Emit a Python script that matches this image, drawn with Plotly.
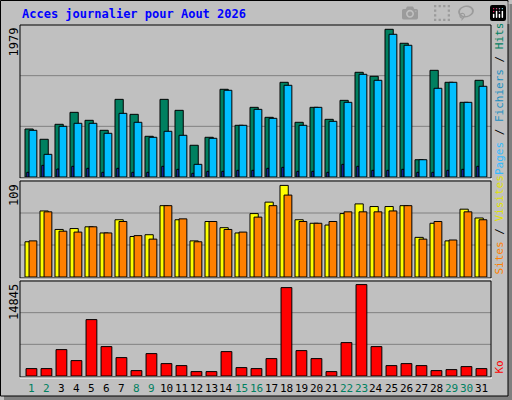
import plotly.graph_objects as go

days = list(range(1, 32))
day_labels = [str(d) for d in days]
weekend_days = [1, 2, 8, 9, 15, 16, 22, 23, 29, 30]
hits = [625, 491, 686, 842, 738, 608, 1011, 816, 530, 1011, 868, 413, 517, 1142, 673, 907,
        777, 1233, 712, 907, 751, 998, 1363, 1311, 1923, 1741, 225, 1389, 1233, 972, 1259]
files = [608, 295, 660, 699, 699, 569, 829, 712, 517, 595, 543, 165, 504, 1129, 673, 881,
         764, 1194, 673, 907, 725, 972, 1337, 1259, 1858, 1715, 225, 1155, 1233, 972, 1181]
pages = [61, 152, 104, 139, 113, 61, 113, 61, 61, 139, 100, 48, 74, 74, 87, 87,
         113, 126, 74, 74, 61, 165, 139, 87, 87, 100, 61, 61, 87, 100, 139]
visits = [40, 75, 54, 55, 57, 50, 65, 46, 48, 81, 65, 41, 63, 56, 50, 72,
          85, 104, 65, 61, 59, 72, 83, 80, 80, 81, 45, 61, 41, 77, 67]
sites = [41, 74, 52, 51, 57, 50, 63, 47, 43, 81, 66, 40, 63, 54, 51, 68,
         81, 93, 63, 61, 63, 74, 74, 74, 75, 81, 43, 63, 42, 74, 65]
ko = [1156, 1156, 4125, 2406, 8813, 4594, 2875, 844, 3500, 1938, 1625, 688, 688, 3813, 1313, 1156,
      2719, 13813, 3969, 2719, 688, 5219, 14282, 4594, 1625, 1938, 1625, 844, 1000, 1469, 1156]
max_hits, max_visits, max_ko = 1979, 109, 14845

W, H = 512, 400
def py(p):  # pixel y -> paper
    return 1 - p / H
def px(p):
    return p / W

line = dict(color="black", width=1)
fig = go.Figure()
def bar(y, color, off, w, axis, xa):
    fig.add_trace(go.Bar(x=days, y=y, marker=dict(color=color, line=line), width=w, offset=off,
                         xaxis=xa, yaxis=axis, showlegend=False, hoverinfo="skip"))

bar(hits, "#008060", -0.35, 0.55, "y", "x")
bar(pages, "#2030D0", -0.23, 0.15, "y", "x")
bar(files, "#00BFFF", -0.08, 0.52, "y", "x")
bar(visits, "#FFFF00", -0.35, 0.55, "y2", "x2")
bar(sites, "#FF8000", -0.08, 0.52, "y2", "x2")
bar(ko, "#FF0000", -0.28, 0.72, "y3", "x3")

xr = [0.317, 31.717]
xd = [px(20), px(491)]
common_x = dict(range=xr, domain=xd, showticklabels=False, showgrid=False, zeroline=False, fixedrange=True)
def yax(rng, top, bot):
    return dict(range=[0, rng], domain=[py(bot), py(top)], showticklabels=False, zeroline=False,
                showgrid=False, tickvals=[rng / 3, 2 * rng / 3], fixedrange=True)

fig.update_layout(
    width=W, height=H, margin=dict(l=0, r=0, t=0, b=0),
    paper_bgcolor="#C0C0C0", plot_bgcolor="#C0C0C0", barmode="overlay",
    xaxis=dict(common_x, anchor="y"), xaxis2=dict(common_x, anchor="y2"), xaxis3=dict(common_x, anchor="y3"),
    yaxis=dict(yax(max_hits, 25, 177), anchor="x"),
    yaxis2=dict(yax(max_visits, 181, 277), anchor="x2"),
    yaxis3=dict(yax(max_ko, 281, 376), anchor="x3"),
    font=dict(family="DejaVu Sans Mono", size=11, color="black"),
)

shapes = []
shapes.append(dict(type="rect", xref="paper", yref="paper", x0=px(4), x1=px(512), y0=py(400), y1=py(396),
                   fillcolor="#808080", line=dict(width=0)))
shapes.append(dict(type="rect", xref="paper", yref="paper", x0=px(508), x1=px(512), y0=py(400), y1=py(4),
                   fillcolor="#808080", line=dict(width=0)))
shapes.append(dict(type="rect", xref="paper", yref="paper", x0=px(0.5), x1=px(508), y0=py(396), y1=py(0.5),
                   line=dict(color="black", width=1)))
for (top, bot) in [(25, 177), (181, 277), (281, 376)]:
    h = bot - top
    for f in (1 / 3, 2 / 3):
        yy = top + h * f
        shapes.append(dict(type="line", xref="paper", yref="paper", x0=px(20), x1=px(491), y0=py(yy), y1=py(yy),
                           line=dict(color="#808080", width=1), layer="below"))
    shapes.append(dict(type="rect", xref="paper", yref="paper", x0=px(20), x1=px(491), y0=py(bot + 1), y1=py(top),
                       line=dict(color="black", width=1)))
    shapes.append(dict(type="line", xref="paper", yref="paper", x0=px(20), x1=px(492), y0=py(bot + 2), y1=py(bot + 2),
                       line=dict(color="white", width=1)))
fig.update_layout(shapes=shapes)

ann = []
ann.append(dict(text="<b>Acces journalier pour Aout 2026</b>", x=px(20), y=py(14), xref="paper", yref="paper",
                xanchor="left", yanchor="middle", showarrow=False, font=dict(color="#0000FF", size=12)))
for txt, top in [(str(max_hits), 26), (str(max_visits), 182), (str(max_ko), 282)]:
    ann.append(dict(text=txt, x=px(14), y=py(top), xref="paper", yref="paper", textangle=-90,
                    xanchor="center", yanchor="top", showarrow=False, font=dict(size=12)))
ann.append(dict(text="<span style='color:#33BBFF'>Pages</span> / <span style='color:#1E90C0'>Fichiers</span> / <span style='color:#008060'>Hits</span>",
                x=px(499), y=py(177), xref="paper", yref="paper", textangle=-90, xanchor="center", yanchor="bottom",
                showarrow=False, font=dict(size=11)))
ann.append(dict(text="<span style='color:#FF8000'>Sites</span> / <span style='color:#E0E000'>Visites</span>",
                x=px(499), y=py(277), xref="paper", yref="paper", textangle=-90, xanchor="center", yanchor="bottom",
                showarrow=False, font=dict(size=11)))
ann.append(dict(text="<span style='color:#FF0000'>Ko</span>",
                x=px(499), y=py(376), xref="paper", yref="paper", textangle=-90, xanchor="center", yanchor="bottom",
                showarrow=False, font=dict(size=11)))
for d, lab in zip(days, day_labels):
    ann.append(dict(text=lab, x=d + 0.07, y=py(388), xref="x3", yref="paper", showarrow=False,
                    xanchor="center", yanchor="middle",
                    font=dict(size=11, color="#008060" if d in weekend_days else "black")))
fig.update_layout(annotations=ann)

fig.write_html("out.html", post_script="document.body.style.margin='0';document.documentElement.style.overflow='hidden';")
